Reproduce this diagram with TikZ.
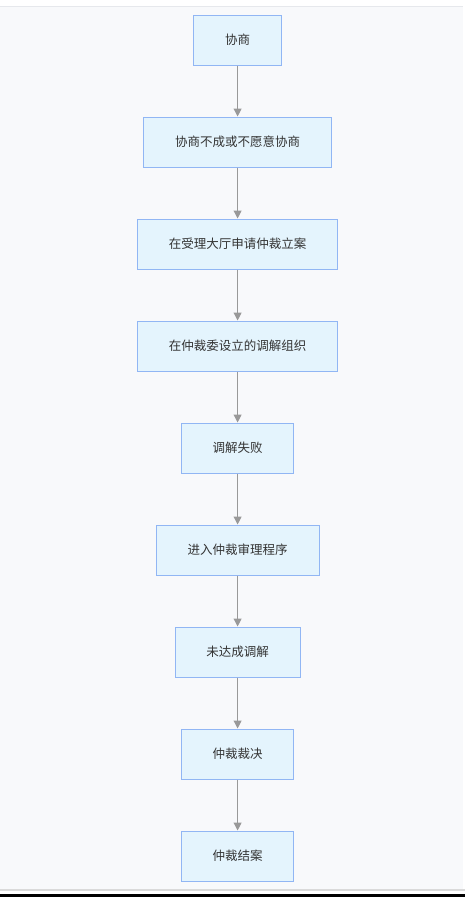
\documentclass[tikz,border=0pt]{standalone}
\usepackage{fontspec}
\newfontfamily\cjk{Noto Sans CJK SC}
\usetikzlibrary{arrows.meta}
\definecolor{bgc}{HTML}{F8F9FB}
\definecolor{boxfill}{HTML}{E4F4FD}
\definecolor{boxline}{HTML}{91B6F4}
\definecolor{arrowc}{HTML}{999999}
\definecolor{txt}{HTML}{333333}
\definecolor{topline}{HTML}{E6E8EC}
\definecolor{botline}{HTML}{DADADA}
\tikzset{
  stepbox/.style={draw=boxline, fill=boxfill, line width=1pt, minimum height=50pt,
    inner sep=0pt, text=txt, font=\cjk\fontsize{12.5pt}{14pt}\selectfont},
  flow/.style={draw=arrowc, line width=1pt, -{Triangle[width=8pt,length=8pt]}}
}
\begin{document}
\begin{tikzpicture}[x=1pt,y=-1pt]
\useasboundingbox (0,0) rectangle (465,897);
\fill[white] (0,0) rectangle (465,897);
\fill[bgc] (0,6) rectangle (463,889);
\draw[topline, line width=1pt] (0,6) -- (463,6);
\draw[botline, line width=1.5pt] (0,890) -- (465,890);
\fill[black] (0,894) rectangle (465,897);
\node[stepbox, minimum width=88pt]  (n1) at (237.6,40)  {协商};
\node[stepbox, minimum width=188pt] (n2) at (237.6,142) {协商不成或不愿意协商};
\node[stepbox, minimum width=200pt] (n3) at (237.6,244) {在受理大厅申请仲裁立案};
\node[stepbox, minimum width=200pt] (n4) at (237.6,346) {在仲裁委设立的调解组织};
\node[stepbox, minimum width=112pt] (n5) at (237.6,448) {调解失败};
\node[stepbox, minimum width=163pt] (n6) at (237.6,550) {进入仲裁审理程序};
\node[stepbox, minimum width=125pt] (n7) at (237.6,652) {未达成调解};
\node[stepbox, minimum width=112pt] (n8) at (237.6,754) {仲裁裁决};
\node[stepbox, minimum width=112pt] (n9) at (237.6,856) {仲裁结案};
\foreach \a/\b in {n1/n2,n2/n3,n3/n4,n4/n5,n5/n6,n6/n7,n7/n8,n8/n9}
  \draw[flow] (\a.south) -- (\b.north);
\end{tikzpicture}
\end{document}
